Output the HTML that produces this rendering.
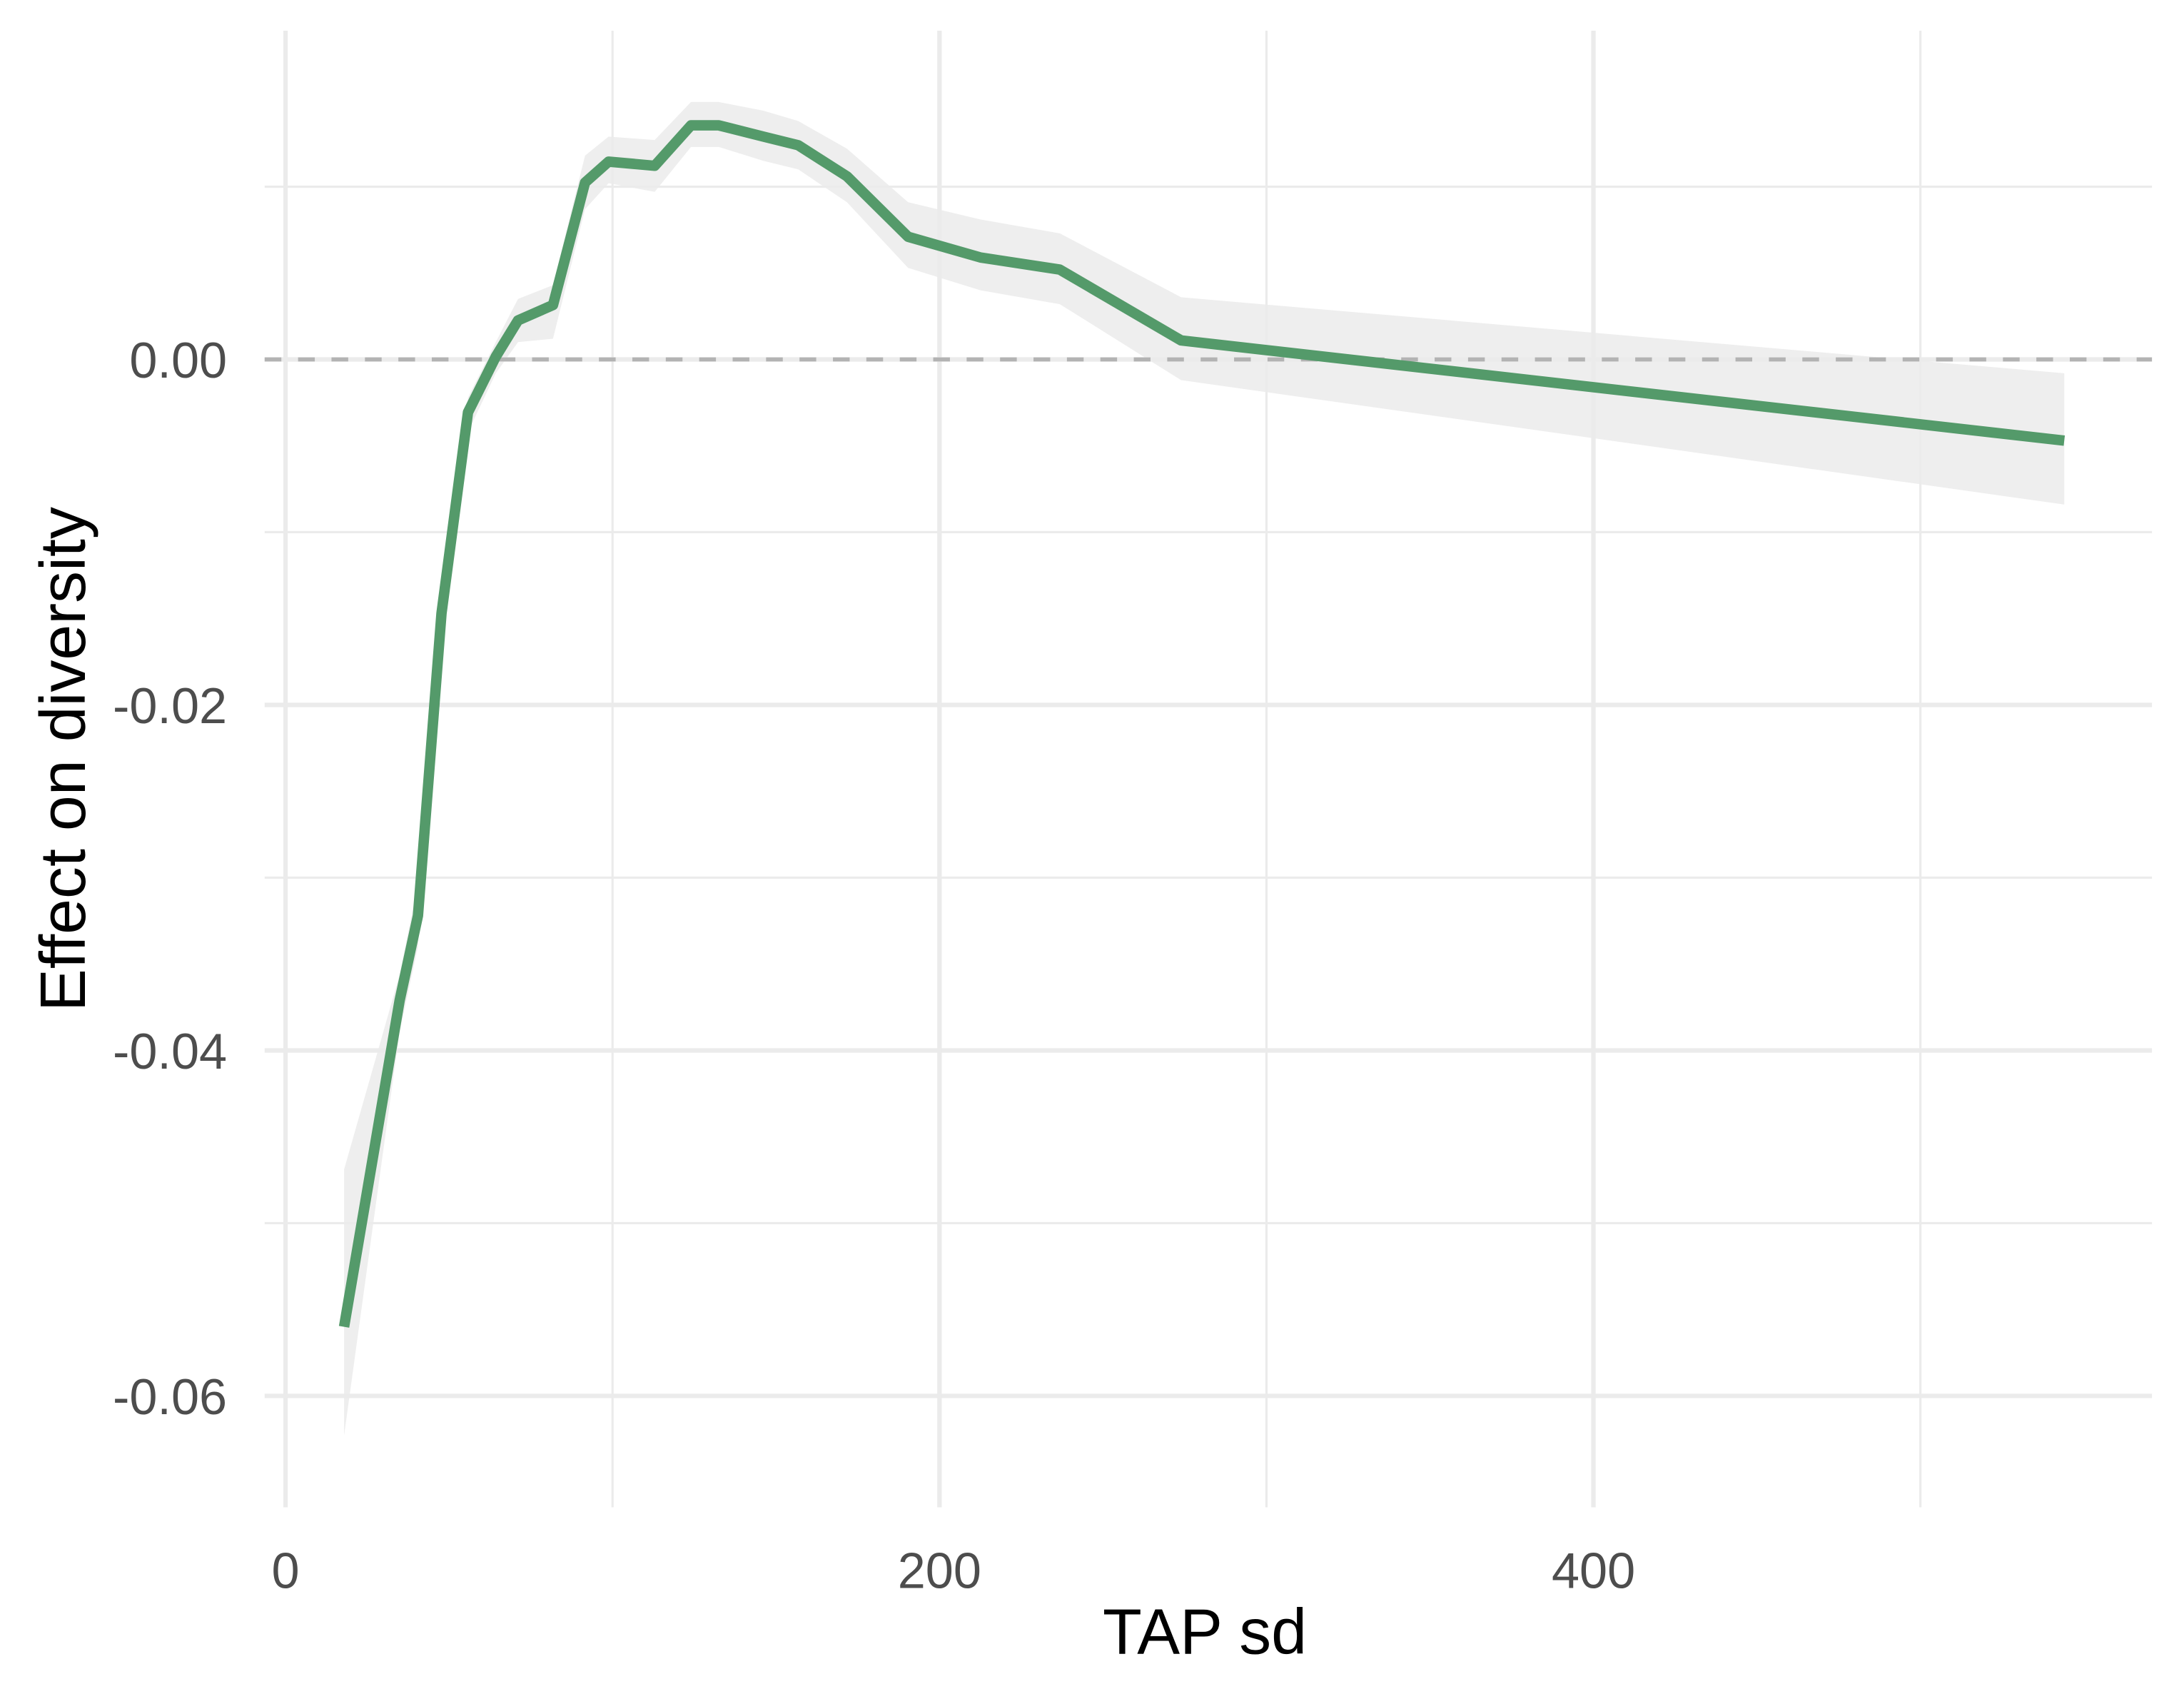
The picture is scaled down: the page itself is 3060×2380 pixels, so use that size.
<!DOCTYPE html>
<html><head><meta charset="utf-8"><style>
html,body{margin:0;padding:0;background:#fff;}
svg{display:block;}
text{font-family:"Liberation Sans",Arial,sans-serif;}
</style></head><body>
<svg id="chart" width="3060" height="2380" viewBox="0 0 1568 1219.55" xmlns="http://www.w3.org/2000/svg">
<rect width="1568" height="1219.55" fill="#fff"/>
<g id="grid"></g>
<g id="ribbon"></g>
<g id="zero"></g>
<g id="line"></g>
<g id="axes"></g>
<text x="865" y="1187" font-size="46" text-anchor="middle" fill="#000">TAP sd</text>
<text transform="translate(61,545) rotate(-90)" font-size="46" text-anchor="middle" fill="#000">Effect on diversity</text>
</svg>
<script>
const xs    = [17.9, 34.9, 40.5, 47.7, 55.8, 64.3, 71.1, 81.8, 91.6, 98.8, 112.9, 124.0, 132.5, 146.1, 156.8, 171.7, 190.4, 212.6, 236.8, 273.9, 544.0];
const est   = [-0.0560,-0.0371,-0.0322,-0.0147,-0.00306,0.00016,0.00226,0.00315,0.01024,0.01145,0.01121,0.01355,0.01355,0.0129,0.0124,0.0106,0.0071,0.0059,0.0052,0.0011,-0.0047];
const upper = [-0.0469,-0.0356,-0.0304,-0.0139,-0.0022,0.0010,0.0035,0.0043,0.0118,0.0129,0.0127,0.0149,0.0149,0.0144,0.0138,0.0122,0.0091,0.0081,0.0073,0.0036,-0.0008];
const lower = [-0.0623,-0.0389,-0.0340,-0.0155,-0.0042,-0.0008,0.0010,0.0012,0.0087,0.0102,0.0097,0.0123,0.0123,0.0115,0.0110,0.0091,0.0053,0.0040,0.0032,-0.0012,-0.0084];
const xTicks = [0, 200, 400];
const xTickLabels = ["0", "200", "400"];
const xMinor = [100, 300, 500];
const yTicks = [0, -0.02, -0.04, -0.06];
const yTickLabels = ["0.00", "-0.02", "-0.04", "-0.06"];
const yMinor = [0.01, -0.01, -0.03, -0.05];

const X0=190, X1=1545, Y0=22, Y1=1082;
function sx(v){ return 205 + v*2.3475; }
function sy(v){ return 258 - v*12400; }
const NS="http://www.w3.org/2000/svg";
function mk(tag, attrs, parent){
  const e=document.createElementNS(NS,tag);
  for(const k in attrs) e.setAttribute(k, attrs[k]);
  parent.appendChild(e); return e;
}
const grid=document.getElementById('grid');
yMinor.forEach(v=>{
  const l=mk('line',{x1:X0,x2:X1,y1:sy(v),y2:sy(v),stroke:'#ebebeb','stroke-width':1.6},grid);
  
  
});
xMinor.forEach(v=>{
  const l=mk('line',{x1:sx(v),x2:sx(v),y1:Y0,y2:Y1,stroke:'#ebebeb','stroke-width':1.6},grid);
  
  
});
yTicks.forEach(v=>{
  const l=mk('line',{x1:X0,x2:X1,y1:sy(v),y2:sy(v),stroke:'#ebebeb','stroke-width':3.2},grid);
  
  
});
xTicks.forEach(v=>{
  const l=mk('line',{x1:sx(v),x2:sx(v),y1:Y0,y2:Y1,stroke:'#ebebeb','stroke-width':3.2},grid);
  
  
});
let d='';
xs.forEach((x,i)=>{ d+=(i?'L':'M')+sx(x)+','+sy(upper[i]); });
for(let i=xs.length-1;i>=0;i--) d+='L'+sx(xs[i])+','+sy(lower[i]);
d+='Z';
const rib=mk('path',{d:d,fill:'#ebebeb','fill-opacity':0.85},document.getElementById('ribbon'));


const z=mk('line',{x1:X0,x2:X1,y1:sy(0),y2:sy(0),stroke:'#b3b3b3','stroke-width':3,'stroke-dasharray':'12,12'},document.getElementById('zero'));


let ld='';
xs.forEach((x,i)=>{ ld+=(i?'L':'M')+sx(x)+','+sy(est[i]); });
const ln=mk('path',{d:ld,fill:'none',stroke:'#549a6a','stroke-width':7.5,'stroke-linejoin':'round'},document.getElementById('line'));


const axes=document.getElementById('axes');
yTicks.forEach((v,i)=>{
  const t=mk('text',{x:163,y:sy(v)+13,'font-size':36,'text-anchor':'end',fill:'#4d4d4d'},axes);
  t.textContent=yTickLabels[i];
  
  
});
xTicks.forEach((v,i)=>{
  const t=mk('text',{x:sx(v),y:1140,'font-size':36,'text-anchor':'middle',fill:'#4d4d4d'},axes);
  t.textContent=xTickLabels[i];
  
  
});
</script>
</body></html>
